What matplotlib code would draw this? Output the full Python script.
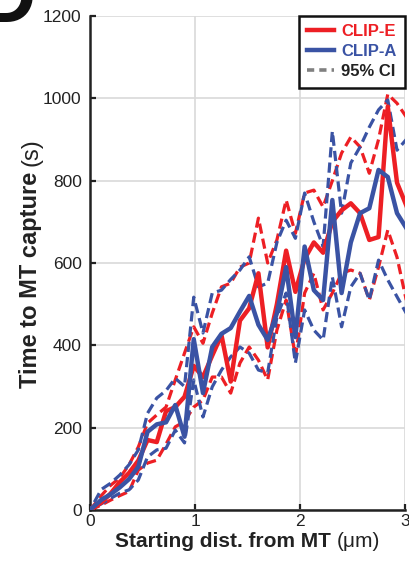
import matplotlib
matplotlib.use('Agg')
import matplotlib.pyplot as plt
from matplotlib.lines import Line2D

plt.rcParams['font.family'] = ['Liberation Sans', 'DejaVu Sans']

# starting distance from MT (um)
dist = [0.0, 0.108, 0.196, 0.284, 0.372, 0.46, 0.548, 0.636, 0.724, 0.812,
        0.9, 0.988, 1.076, 1.164, 1.252, 1.34, 1.428, 1.516, 1.604, 1.692,
        1.78, 1.868, 1.956, 2.044, 2.132, 2.22, 2.308, 2.396, 2.484, 2.572,
        2.66, 2.748, 2.836, 2.924, 3.012]

# CLIP-A (blue): mean and 95% CI
clipa_mean = [0, 25, 38, 55, 75, 105, 190, 208, 213, 255,
              178, 415, 284, 396, 428, 442, 482, 520, 450, 413,
              478, 590, 420, 640, 534, 510, 753, 527, 650, 721,
              733, 826, 809, 721, 685]
clipa_hi = [0, 50, 65, 85, 110, 146, 235, 272, 290, 320,
            300, 517, 430, 527, 534, 560, 583, 615, 542, 551,
            650, 704, 660, 770, 700, 640, 920, 721, 843, 882,
            930, 972, 996, 874, 900]
clipa_lo = [0, 15, 28, 41, 49, 73, 129, 146, 150, 194,
            163, 316, 226, 299, 340, 372, 396, 381, 340, 333,
            469, 527, 357, 486, 437, 413, 566, 445, 542, 575,
            510, 607, 559, 518, 478]

# CLIP-E (red): mean and 95% CI
clipe_mean = [0, 18, 40, 68, 90, 120, 170, 165, 240, 250,
              275, 350, 323, 375, 425, 312, 460, 490, 575, 395,
              500, 630, 530, 610, 650, 625, 700, 728, 745, 721,
              656, 663, 980, 795, 740]
clipe_hi = [0, 35, 60, 78, 110, 153, 211, 231, 250, 316,
            381, 445, 405, 478, 542, 551, 590, 600, 709, 600,
            656, 753, 672, 770, 777, 736, 800, 867, 906, 882,
            818, 900, 1010, 988, 955]
clipe_lo = [0, 12, 24, 35, 45, 97, 114, 121, 160, 202,
            215, 250, 267, 323, 323, 284, 357, 396, 364, 316,
            437, 510, 372, 527, 575, 486, 527, 575, 583, 575,
            510, 590, 680, 614, 510]

RED = '#ED1F24'
BLUE = '#3A53A4'
INK = '#222222'
W, H = 409, 565

fig = plt.figure(figsize=(W / 100, H / 100), dpi=100)
ax = fig.add_axes([90 / W, 1 - 510 / H, 315 / W, 494 / H])

dash = (3.2, 1.6)
ax.plot(dist, clipe_hi, color=RED, lw=2.3, ls=(0, dash), zorder=3)
ax.plot(dist, clipe_lo, color=RED, lw=2.3, ls=(0, dash), zorder=3)
ax.plot(dist, clipa_hi, color=BLUE, lw=2.3, ls=(2, dash), zorder=3)
ax.plot(dist, clipa_lo, color=BLUE, lw=2.3, ls=(2, dash), zorder=3)
ax.plot(dist, clipe_mean, color=RED, lw=3.2, zorder=4)
ax.plot(dist, clipa_mean, color=BLUE, lw=3.2, zorder=5)

ax.set_xlim(0, 3)
ax.set_ylim(0, 1200)
ax.set_xticks([0, 1, 2, 3])
ax.set_yticks(range(0, 1201, 200))
ax.grid(True, color='#d9d9d9', lw=1.2)
ax.set_axisbelow(True)
for s in ['top', 'right']:
    ax.spines[s].set_visible(False)
for s in ['left', 'bottom']:
    ax.spines[s].set_linewidth(1.8)
    ax.spines[s].set_color(INK)
ax.tick_params(direction='in', length=4.5, width=1.6, labelsize=12.5,
               color=INK, labelcolor=INK)
ax.tick_params(axis='x', pad=3)
ax.tick_params(axis='y', pad=6)

# axis labels: bold text followed by a regular-weight unit
r = fig.canvas.get_renderer()
xb = fig.text(0, 1 - 547 / H, 'Starting dist. from MT', fontsize=15,
              fontweight='bold', va='baseline', color=INK)
xu = fig.text(0, 1 - 547 / H, '(\u03bcm)', fontsize=15, va='baseline', color=INK)
wb = xb.get_window_extent(r).width
wu = xu.get_window_extent(r).width
gap = 5
x0 = 247.5 - (wb + gap + wu) / 2
xb.set_x(x0 / W)
xu.set_x((x0 + wb + gap) / W)

yb = fig.text(37 / W, 0, 'Time to MT capture', fontsize=17, fontweight='bold',
              rotation=90, rotation_mode='anchor', ha='left', va='baseline', color=INK)
yu = fig.text(37 / W, 0, '(s)', fontsize=17, rotation=90, rotation_mode='anchor',
              ha='left', va='baseline', color=INK)
hb = yb.get_window_extent(r).height
hu = yu.get_window_extent(r).height
gap = 6
y0 = (H - 263) - (hb + gap + hu) / 2
yb.set_y(y0 / H)
yu.set_y((y0 + hb + gap) / H)

handles = [Line2D([], [], color=RED, lw=3.2),
           Line2D([], [], color=BLUE, lw=3.2),
           Line2D([], [], color='#808080', lw=2.6, ls=(0, (2, 1.4)))]
leg = ax.legend(handles, ['CLIP-E', 'CLIP-A', '95% CI'], loc='upper right',
                borderaxespad=0, fancybox=False, edgecolor='#111111', framealpha=1,
                prop={'weight': 'bold', 'size': 12}, handlelength=1.6,
                handletextpad=0.45, labelspacing=0.3, borderpad=0.5)
leg.get_frame().set_linewidth(1.8)
for t, c in zip(leg.get_texts(), [RED, BLUE, INK]):
    t.set_color(c)

# panel letter, mostly cut off at the top-left corner
fig.text(36 / W, 1 - 22 / H, 'D', fontsize=56, fontweight='bold',
         ha='right', va='baseline', color='#111111')

fig.savefig('out.png', dpi=100)
